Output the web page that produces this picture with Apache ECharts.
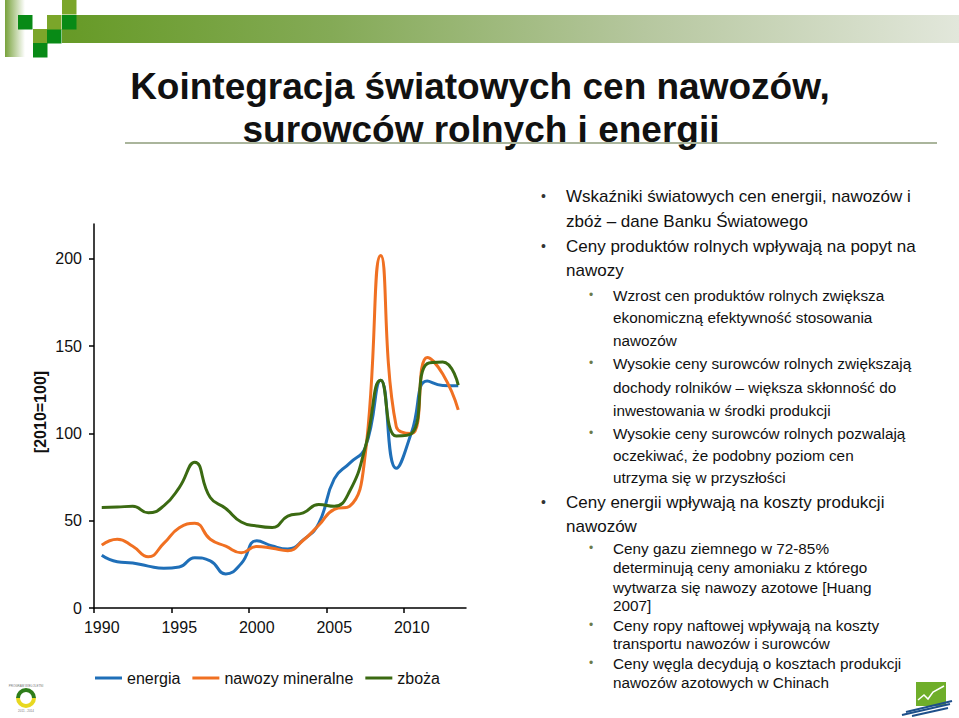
<!DOCTYPE html>
<html>
<head>
<meta charset="utf-8">
<script src="https://cdn.jsdelivr.net/npm/echarts@6/dist/echarts.min.js"></script>
<style>
html,body{margin:0;padding:0;background:#fff;}
#main{width:959px;height:718px;}
</style>
</head>
<body>
<div id="main"></div>
<script>
// ---- data ----
var years = [1990,1991,1992,1993,1994,1995,1996,1997,1998,1999,2000,2001,2002,2003,2004,2005,2006,2007,2008,2009,2010,2011,2012,2013];
var energia = [30.2,26.5,25.8,24,22.8,23.5,28.8,27,19.5,25.5,38.5,35.5,33.8,39,48.5,74,83,92,130.5,80,101,130,127.5,127.3];
var nawozy = [36,39.4,35.4,29.3,37,46,48.5,39.4,35.4,31.7,35.3,34.2,32.8,38.8,47.4,56.5,58.3,88,202,104,100,143.5,134,113.5];
var zboza = [57.6,57.8,58.3,54.5,58.5,69,83.5,63.3,57,49.3,47,46.1,52.6,54.5,59.3,58.3,67,92,130.5,98.5,100,140,141,127.7];
var seriesNames = ['energia','nawozy mineralne','zboża'];
var yTicks = [0,50,100,150,200];
var xLabelYears = [1990,1995,2000,2005,2010];
var xTickPos = [1989.5,1994.5,1999.5,2004.5,2009.5];
var titleLines = ['Kointegracja światowych cen nawozów,','surowców rolnych i energii'];
var yAxisTitle = '[2010=100]';
var bulletLines = [
  [1,true,'Wskaźniki światowych cen energii, nawozów i',196],
  [1,false,'zbóż – dane Banku Światowego',221],
  [1,true,'Ceny produktów rolnych wpływają na popyt na',246],
  [1,false,'nawozy',270],
  [2,true,'Wzrost cen produktów rolnych zwiększa',295],
  [2,false,'ekonomiczną efektywność stosowania',317],
  [2,false,'nawozów',340],
  [2,true,'Wysokie ceny surowców rolnych zwiększają',363],
  [2,false,'dochody rolników – większa skłonność do',387],
  [2,false,'inwestowania w środki produkcji',410],
  [2,true,'Wysokie ceny surowców rolnych pozwalają',433],
  [2,false,'oczekiwać, że podobny poziom cen',455],
  [2,false,'utrzyma się w przyszłości',477],
  [1,true,'Ceny energii wpływają na koszty produkcji',502],
  [1,false,'nawozów',526],
  [2,true,'Ceny gazu ziemnego w 72-85%',548],
  [2,false,'determinują ceny amoniaku z którego',567],
  [2,false,'wytwarza się nawozy azotowe [Huang',587],
  [2,false,'2007]',605],
  [2,true,'Ceny ropy naftowej wpływają na koszty',625],
  [2,false,'transportu nawozów i surowców',643],
  [2,true,'Ceny węgla decydują o kosztach produkcji',663],
  [2,false,'nawozów azotowych w Chinach',682]
];

function pairs(arr){ return years.map(function(y,i){ return [y, arr[i]]; }); }

var FONT = '"Liberation Sans", Arial, sans-serif';
var colors = ['#1f6fb8','#f07022','#3b6a12'];

var graphics = [];
// top decoration
graphics.push({type:'rect', shape:{x:5,y:0,width:20,height:57}, style:{fill:new echarts.graphic.LinearGradient(0,0,1,0,[{offset:0,color:'#78a23c'},{offset:1,color:'#ffffff'}])}, silent:true});
graphics.push({type:'rect', shape:{x:62,y:15,width:897,height:28}, style:{fill:new echarts.graphic.LinearGradient(0,0,1,0,[{offset:0,color:'#669a26'},{offset:0.3,color:'#84aa56'},{offset:0.65,color:'#b6c79f'},{offset:1,color:'#e2e7db'}])}, silent:true});
var sq = [
  [18,15,'#088a16'],[33,29,'#7ba62a'],[33,43,'#088a16'],[47,29,'#088a16'],[47,15,'#7ba62a'],[62,15,'#088a16'],[62,0,'#7ba62a']
];
sq.forEach(function(s){ graphics.push({type:'rect', shape:{x:s[0],y:s[1],width:14.5,height:14.5}, style:{fill:s[2]}, silent:true}); });
// title
graphics.push({type:'text', x:480, y:86, style:{text:titleLines[0], font:'bold 37px '+FONT, fill:'#111', align:'center', verticalAlign:'middle'}});
graphics.push({type:'text', x:481, y:129, style:{text:titleLines[1], font:'bold 37px '+FONT, fill:'#111', align:'center', verticalAlign:'middle'}});
graphics.push({type:'line', shape:{x1:125,y1:143,x2:937,y2:143}, style:{stroke:'#aab59c', lineWidth:2}, silent:true});
// y axis title
graphics.push({type:'text', x:40, y:412, rotation:Math.PI/2, style:{text:yAxisTitle, font:'bold 16px '+FONT, fill:'#111', align:'center', verticalAlign:'middle'}});
// bullet text
bulletLines.forEach(function(b){
  var lvl=b[0], hasB=b[1], txt=b[2], y=b[3];
  var tx = lvl===1 ? 566 : 613;
  var bx = lvl===1 ? 541 : 589;
  var fs = lvl===1 ? 17 : 15.3;
  if(hasB){ graphics.push({type:'text', x:bx, y:y, style:{text:'•', font:(lvl===1?'14px ':'12px ')+FONT, fill:(lvl===1?'#333':'#6b7a4a'), align:'left', verticalAlign:'middle'}}); }
  graphics.push({type:'text', x:tx, y:y, style:{text:txt, font:fs+'px '+FONT, fill:'#111', align:'left', verticalAlign:'middle'}});
});
// bottom-left logo
graphics.push({type:'arc', shape:{cx:26,cy:698,r:8,startAngle:Math.PI*1.0,endAngle:Math.PI*2.0}, style:{stroke:'#2e7d1a', lineWidth:4, fill:null}, silent:true});
graphics.push({type:'arc', shape:{cx:26,cy:698,r:8,startAngle:0,endAngle:Math.PI}, style:{stroke:'#e8d820', lineWidth:4, fill:null}, silent:true});
graphics.push({type:'text', x:26, y:686, style:{text:'PROGRAM WIELOLETNI', font:'3px '+FONT, fill:'#777', align:'center', verticalAlign:'middle'}});
graphics.push({type:'text', x:26, y:711, style:{text:'2011 - 2014', font:'3px '+FONT, fill:'#777', align:'center', verticalAlign:'middle'}});
// bottom-right logo
graphics.push({type:'rect', shape:{x:916,y:682,width:30,height:24}, style:{fill:'#6fae2a'}, silent:true});
graphics.push({type:'polyline', shape:{points:[[918,700],[924,695],[928,699],[933,692],[944,686]]}, style:{stroke:'#fff', lineWidth:1.5, fill:null}, silent:true});
[[902,715,950,704],[906,712,952,701],[912,716,948,708]].forEach(function(p){
  graphics.push({type:'line', shape:{x1:p[0],y1:p[1],x2:p[2],y2:p[3]}, style:{stroke:'#1e4f8a', lineWidth:2}, silent:true});
});

var chart = echarts.init(document.getElementById('main'), null, {renderer:'svg', width:959, height:718});
chart.setOption({
  backgroundColor:'#ffffff',
  animation:false,
  textStyle:{fontFamily:FONT},
  grid:{left:94, right:493, top:224, bottom:110, containLabel:false},
  legend:{
    left:95, top:670, padding:0, itemWidth:27, itemHeight:3, itemGap:12,
    textStyle:{fontSize:16, color:'#111', fontFamily:FONT},
    data:seriesNames.map(function(n,i){ return {name:n, icon:'rect'}; })
  },
  xAxis:{
    type:'value', min:1989.5, max:2013.5,
    axisLine:{show:true, lineStyle:{color:'#000', width:1.5}},
    axisTick:{show:true, length:5, lineStyle:{color:'#000', width:1.5}, customValues:xTickPos},
    axisLabel:{customValues:xLabelYears, fontSize:16, color:'#111', margin:11, fontFamily:FONT, formatter:function(v){ return String(Math.round(v)); }},
    splitLine:{show:false}
  },
  yAxis:{
    type:'value', min:0, max:220,
    axisLine:{show:true, lineStyle:{color:'#000', width:1.5}},
    axisTick:{show:true, length:5, lineStyle:{color:'#000', width:1.5}, customValues:yTicks},
    axisLabel:{customValues:yTicks, fontSize:16, color:'#111', margin:12, fontFamily:FONT},
    splitLine:{show:false}
  },
  series:[
    {name:seriesNames[0], type:'line', data:pairs(energia), smooth:0.5, showSymbol:false, symbol:'none', lineStyle:{width:3, color:colors[0]}, itemStyle:{color:colors[0]}, z:3},
    {name:seriesNames[1], type:'line', data:pairs(nawozy), smooth:0.5, showSymbol:false, symbol:'none', lineStyle:{width:3, color:colors[1]}, itemStyle:{color:colors[1]}, z:4},
    {name:seriesNames[2], type:'line', data:pairs(zboza), smooth:0.5, showSymbol:false, symbol:'none', lineStyle:{width:3, color:colors[2]}, itemStyle:{color:colors[2]}, z:5}
  ],
  graphic:graphics
});
</script>
</body>
</html>
